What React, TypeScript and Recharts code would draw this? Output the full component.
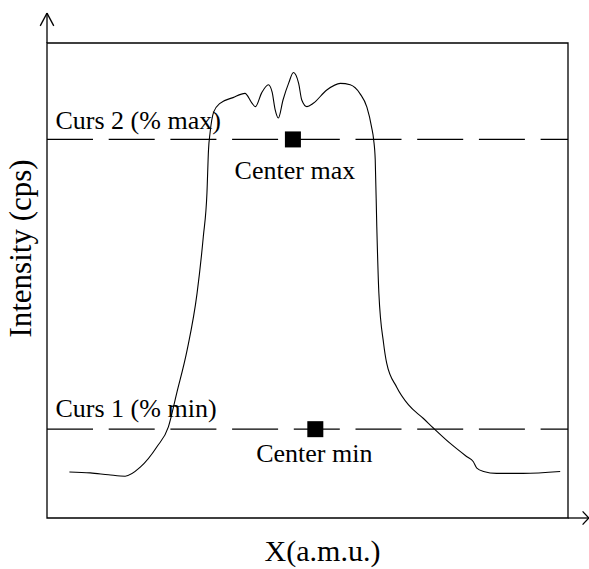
import React from "react";
import {
  ComposedChart, Line, Scatter, XAxis, YAxis, ReferenceLine, ReferenceArea,
} from "recharts";

const X_AMU = [
  4.3, 8.3, 11.8, 15.0, 17.9, 21.1, 23.3, 24.9, 26.9, 28.8, 30.0, 30.7, 31.0, 31.3,
  32.0, 33.2, 35.7, 38.0, 39.3, 40.0, 41.2, 42.5, 43.2, 43.8, 44.4, 45.3, 46.4, 47.3,
  48.3, 48.9, 49.9, 51.1, 53.7, 56.3, 58.2, 60.1, 61.4, 62.3, 62.7, 63.0, 63.3, 63.7,
  64.6, 65.2, 67.1, 69.4, 72.2, 74.2, 77.4, 80.6, 81.8, 82.5, 83.8, 86.3, 91.4, 98.5,
];
const INTENSITY = [
  9.7, 9.5, 9.1, 8.8, 10.7, 15.0, 19.2, 26.3, 35.4, 47.3, 59.2, 68.4, 77.5, 81.1,
  85.5, 87.3, 88.5, 89.4, 87.4, 86.6, 89.5, 91.2, 89.7, 85.9, 84.2, 88.0, 91.6, 93.8,
  91.5, 88.0, 86.6, 87.3, 90.1, 91.5, 91.2, 89.3, 86.5, 82.3, 79.6, 75.4, 61.3, 47.3,
  36.8, 32.6, 27.6, 23.8, 21.0, 18.9, 15.7, 12.9, 11.9, 10.5, 9.8, 9.4, 9.4, 9.8,
];

const CURSOR_NAMES = ["Curs 2 (% max)", "Curs 1 (% min)"];
const CURSOR_LEVELS = [79.7, 18.7];
const CENTER_NAMES = ["Center max", "Center min"];
const CENTER_X = [47.2, 51.5];

const X_TITLE = "X(a.m.u.)";
const Y_TITLE = "Intensity (cps)";

const FONT = "'Liberation Serif', 'Times New Roman', serif";

const curve = X_AMU.map((x, i) => ({ x, y: INTENSITY[i] }));
const centers = CENTER_NAMES.map((name, i) => ({ name, x: CENTER_X[i], y: CURSOR_LEVELS[i] }));

const SquareWithLabel = (p: any) => {
  const { cx, cy, payload } = p;
  const isMax = payload.name === "Center max";
  return (
    <g>
      <rect x={cx - 8} y={cy - 8} width={16} height={16} fill="#000" />
      <text
        x={cx + (isMax ? 2 : -1)}
        y={cy + (isMax ? 40 : 33)}
        textAnchor="middle"
        fontFamily={FONT}
        fontSize={26}
        fill="#000"
      >
        {payload.name}
      </text>
    </g>
  );
};

const cursorLabel = (text: string, dy: number) => (props: any) => {
  const vb = props.viewBox || {};
  return (
    <text x={vb.x + 8.5} y={vb.y + dy} fontFamily={FONT} fontSize={26} fill="#000">
      {text}
    </text>
  );
};

// axis titles hang off the frame rectangle
const frameTitles = (props: any) => {
  const vb = props.viewBox || {};
  const yx = vb.x - 16;
  const yy = vb.y + vb.height / 2 - 32;
  return (
    <g>
      <text
        x={vb.x + vb.width / 2 + 15}
        y={vb.y + vb.height + 43}
        textAnchor="middle"
        fontFamily={FONT}
        fontSize={30}
        fill="#000"
      >
        {X_TITLE}
      </text>
      <text
        x={yx}
        y={yy}
        transform={`rotate(-90, ${yx}, ${yy})`}
        textAnchor="middle"
        fontFamily={FONT}
        fontSize={31}
        fill="#000"
      >
        {Y_TITLE}
      </text>
    </g>
  );
};

const line = { stroke: "#000", strokeWidth: 1.3, ifOverflow: "visible" as const };

export default function App() {
  return (
    <div style={{ position: "absolute", left: 0, top: 0, width: 589, height: 569, background: "#fff" }}>
      <ComposedChart
        width={589}
        height={569}
        data={curve}
        margin={{ top: 43, right: 21, bottom: 51, left: 47 }}
      >
        <XAxis type="number" dataKey="x" domain={[0, 100]} hide />
        <YAxis type="number" dataKey="y" domain={[0, 100]} hide />

        <ReferenceArea
          x1={0}
          x2={100}
          y1={0}
          y2={100}
          fill="none"
          stroke="#000"
          strokeWidth={1.3}
          ifOverflow="visible"
          label={frameTitles}
        />
        <ReferenceLine {...line} segment={[{ x: 0, y: 100 }, { x: 0, y: 106.3 }]} />
        <ReferenceLine {...line} segment={[{ x: -1.3, y: 103.6 }, { x: 0, y: 106.3 }]} />
        <ReferenceLine {...line} segment={[{ x: 1.3, y: 103.6 }, { x: 0, y: 106.3 }]} />
        <ReferenceLine {...line} segment={[{ x: 100, y: 0 }, { x: 104, y: 0 }]} />
        <ReferenceLine {...line} segment={[{ x: 102.8, y: 1.4 }, { x: 104, y: 0 }]} />
        <ReferenceLine {...line} segment={[{ x: 102.8, y: -1.4 }, { x: 104, y: 0 }]} />

        {CURSOR_LEVELS.map((lvl, i) => (
          <ReferenceLine
            key={CURSOR_NAMES[i]}
            y={lvl}
            stroke="#000"
            strokeWidth={1.2}
            strokeDasharray="46 15.7"
            label={cursorLabel(CURSOR_NAMES[i], i === 0 ? -10 : -12.6)}
          />
        ))}

        <Line
          type="monotone"
          dataKey="y"
          stroke="#000"
          strokeWidth={1.1}
          dot={false}
          activeDot={false}
          isAnimationActive={false}
        />
        <Scatter data={centers} dataKey="y" shape={SquareWithLabel} isAnimationActive={false} />
      </ComposedChart>
    </div>
  );
}
